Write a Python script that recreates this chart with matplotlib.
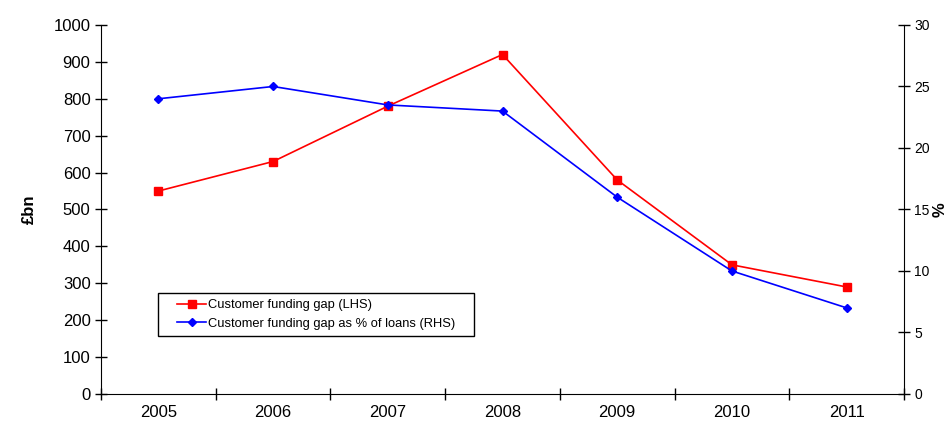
import matplotlib
matplotlib.use("Agg")
import matplotlib.pyplot as plt
from matplotlib.ticker import FixedLocator, NullFormatter
from matplotlib.patches import Rectangle

plt.rcParams['font.family'] = ['Liberation Sans', 'DejaVu Sans']

years = ['2005', '2006', '2007', '2008', '2009', '2010', '2011']
funding_gap = [550, 630, 780, 920, 580, 350, 290]
gap_pct_loans = [24, 25, 23.5, 23, 16, 10, 7]

fig = plt.figure(figsize=(9.53, 4.22), dpi=100)
ax = fig.add_axes([0.106, 0.0664, 0.8426, 0.8744])
ax2 = ax.twinx()

x = list(range(len(years)))
l1, = ax.plot(x, funding_gap, color='#ff0000', marker='s', markersize=5.5, lw=1.2,
              label='Customer funding gap (LHS)')
l2, = ax2.plot(x, gap_pct_loans, color='#0000ff', marker='D', markersize=4, lw=1.2,
               label='Customer funding gap as % of loans (RHS)')

ax.set_xlim(-0.5, len(years) - 0.5)
ax.set_ylim(0, 1000)
ax2.set_ylim(0, 30)
ax.set_yticks(range(0, 1001, 100))
ax2.set_yticks(range(0, 31, 5))

ax.xaxis.set_major_locator(FixedLocator([i - 0.5 for i in range(len(years) + 1)]))
ax.xaxis.set_major_formatter(NullFormatter())
ax.xaxis.set_minor_locator(FixedLocator(x))
ax.set_xticklabels(years, minor=True)
ax.tick_params(axis='x', which='minor', length=0, labelsize=12, pad=8)
ax.tick_params(axis='x', which='major', direction='inout', length=8, width=1)
ax.tick_params(axis='y', direction='inout', length=8, width=1, labelsize=12)
ax2.tick_params(axis='y', direction='inout', length=8, width=1, labelsize=10)

for a in (ax, ax2):
    a.spines['top'].set_visible(False)
ax.spines['right'].set_visible(False)
ax2.spines['left'].set_visible(False)
ax2.spines['bottom'].set_visible(False)

ax.set_ylabel('£bn', fontsize=12, fontweight='bold', labelpad=12)
ax2.set_ylabel('%', fontsize=12, fontweight='bold', rotation=90, labelpad=2)

# legend frame (Excel-style, wider horizontal padding)
box = Rectangle((0.071, 0.157), 0.3935, 0.1165, transform=ax.transAxes,
                facecolor='white', edgecolor='black', lw=1, zorder=5)
ax2.add_patch(box)
leg = ax2.legend(handles=[l1, l2], loc='center left',
                 bbox_to_anchor=(0.095, 0.157 + 0.1165 / 2),
                 bbox_transform=ax.transAxes,
                 fontsize=9.3, frameon=False, borderpad=0, borderaxespad=0,
                 handlelength=2.2, handletextpad=0.2, labelspacing=0.5)
leg.set_zorder(6)

fig.savefig('out.png', dpi=100)
